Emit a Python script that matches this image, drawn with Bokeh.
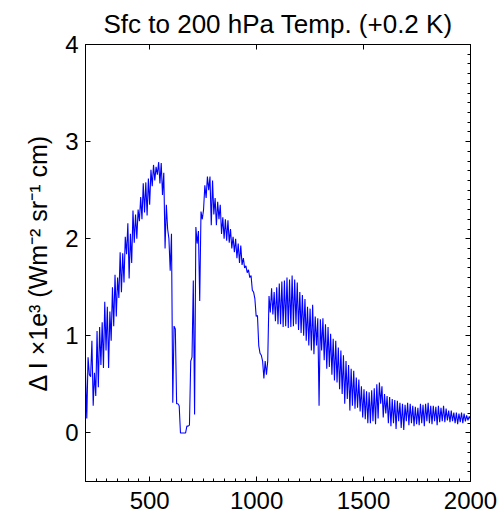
from bokeh.plotting import figure
from bokeh.models import LinearAxis, Range1d, FixedTicker, CustomJSTickFormatter, ColumnDataSource
from bokeh.embed import file_html
from bokeh.resources import INLINE

# Channel grid (cm^-1) and radiance change
WAVENUMBER = list(range(200, 2001, 6))
DELTA_I = [
    0.62, 0.15, 0.78, 0.60, 0.58, 0.95, 0.28, 0.62, 0.38, 1.05,
    0.47, 1.09, 0.70, 1.14, 0.67, 1.35, 0.85, 1.30, 0.67, 1.25,
    0.95, 1.50, 1.10, 1.63, 1.20, 1.60, 1.39, 1.86, 1.45, 1.85,
    1.55, 2.02, 1.84, 2.16, 1.59, 2.05, 1.75, 2.29, 1.96, 2.25,
    2.00, 2.30, 2.18, 2.43, 2.20, 2.57, 2.27, 2.58, 2.24, 2.62,
    2.35, 2.71, 2.54, 2.76, 2.60, 2.74, 2.66, 2.79, 2.57, 2.78,
    2.45, 2.68, 1.90, 2.35, 2.10, 2.00, 1.67, 2.05, 0.31, 1.10,
    1.07, 0.30, 0.30, 0.28, 0.00, 0.00, 0.00, 0.00, 0.00, 0.07,
    0.07, 0.08, 0.74, 0.78, 1.57, 0.19, 2.12, 1.95, 2.08, 1.36,
    2.28, 2.20, 2.30, 2.55, 2.42, 2.64, 2.50, 2.64, 2.14, 2.60,
    2.25, 2.42, 2.14, 2.38, 2.20, 2.35, 2.05, 2.22, 2.00, 2.20,
    1.98, 2.19, 1.96, 2.10, 1.90, 2.02, 1.86, 2.00, 1.80, 1.95,
    1.75, 1.93, 1.73, 1.80, 1.70, 1.72, 1.65, 1.68, 1.60, 1.62,
    1.47, 1.45, 1.38, 1.20, 1.21, 0.90, 0.82, 0.80, 0.74, 0.56,
    0.74, 0.60, 0.74, 1.41, 1.24, 1.49, 1.22, 1.45, 1.15, 1.50,
    1.12, 1.54, 1.12, 1.56, 1.09, 1.57, 1.10, 1.60, 1.08, 1.58,
    1.09, 1.62, 1.10, 1.58, 1.12, 1.55, 1.06, 1.45, 1.03, 1.42,
    1.00, 1.38, 0.95, 1.30, 0.90, 1.28, 0.85, 1.32, 0.81, 1.20,
    0.90, 1.18, 0.28, 1.17, 0.85, 1.18, 0.75, 1.12, 0.66, 1.09,
    0.68, 1.02, 0.60, 0.97, 0.54, 0.95, 0.52, 0.88, 0.45, 0.85,
    0.40, 0.80, 0.30, 0.74, 0.35, 0.70, 0.23, 0.66, 0.28, 0.64,
    0.25, 0.57, 0.26, 0.55, 0.22, 0.48, 0.16, 0.45, 0.14, 0.43,
    0.10, 0.42, 0.10, 0.44, 0.12, 0.46, 0.09, 0.50, 0.15, 0.52,
    0.30, 0.48, 0.16, 0.40, 0.20, 0.38, 0.10, 0.37, 0.07, 0.35,
    0.10, 0.34, 0.04, 0.33, 0.12, 0.31, 0.05, 0.30, 0.03, 0.29,
    0.12, 0.31, 0.08, 0.30, 0.10, 0.28, 0.07, 0.27, 0.09, 0.26,
    0.08, 0.30, 0.10, 0.29, 0.07, 0.30, 0.12, 0.31, 0.10, 0.28,
    0.09, 0.28, 0.12, 0.27, 0.08, 0.28, 0.11, 0.26, 0.12, 0.28,
    0.11, 0.25, 0.13, 0.23, 0.11, 0.23, 0.12, 0.21, 0.10, 0.21,
    0.09, 0.20, 0.11, 0.21, 0.10, 0.20, 0.12, 0.18, 0.13, 0.17,
    0.14,
]
X_TICKS = [500, 1000, 1500, 2000]
Y_TICKS = [0, 1, 2, 3, 4]
TITLE = "Sfc to 200 hPa Temp. (+0.2 K)"
Y_LABEL = "Δ I ×1e³ (Wm⁻² sr⁻¹ cm)"

FONT = "Liberation Sans"
x_minor = list(range(200, 2001, 50))
y_minor = [i / 10 for i in range(-5, 41)]

p = figure(width=500, height=518, output_backend="svg", toolbar_location=None,
           x_range=Range1d(200, 2000), y_range=Range1d(-0.5, 4),
           min_border_left=85, min_border_right=30, min_border_top=5,
           min_border_bottom=37, title=TITLE)
p.background_fill_color = "white"
p.border_fill_color = "white"
p.outline_line_color = "black"
p.outline_line_width = 1
p.xgrid.visible = False
p.ygrid.visible = False

p.title.text_font = FONT
p.title.text_font_size = "26px"
p.title.text_font_style = "normal"
p.title.align = "center"
p.title.text_color = "black"
p.title.standoff = 12

src = ColumnDataSource(dict(x=WAVENUMBER, y=DELTA_I))
p.line("x", "y", source=src, line_color="#0000FF", line_width=1.1)

def style(ax, ticks, minor, labels=True):
    ax.ticker = FixedTicker(ticks=ticks, minor_ticks=minor)
    ax.axis_line_color = "black"
    ax.major_tick_line_color = "black"
    ax.minor_tick_line_color = "black" if minor else None
    ax.major_tick_in = 5
    ax.major_tick_out = 0
    ax.minor_tick_in = 3
    ax.minor_tick_out = 0
    ax.major_label_text_font = FONT
    ax.major_label_text_font_size = "24px"
    ax.major_label_text_color = "black"
    if not labels:
        ax.formatter = CustomJSTickFormatter(code="return ''")
        ax.major_label_standoff = 0

xa = p.xaxis[0]
style(xa, X_TICKS, x_minor)
xa.major_label_standoff = 10

ya = p.yaxis[0]
style(ya, Y_TICKS, [])
ya.major_label_standoff = 7
ya.axis_label = Y_LABEL
ya.axis_label_text_font = FONT
ya.axis_label_text_font_size = "25px"
ya.axis_label_text_font_style = "normal"
ya.axis_label_text_color = "black"
ya.axis_label_standoff = 10

top = LinearAxis()
style(top, X_TICKS, [], labels=False)
p.add_layout(top, "above")

right = LinearAxis()
style(right, Y_TICKS, y_minor, labels=False)
p.add_layout(right, "right")

open("out.html", "w").write(file_html(p, INLINE))
